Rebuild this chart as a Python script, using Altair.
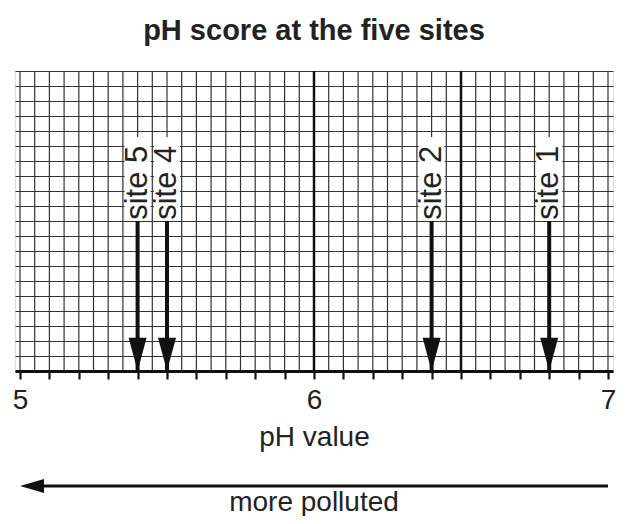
import altair as alt
import pandas as pd

# ---- data ----
sites = ["site 1", "site 2", "site 4", "site 5"]
ph_values = [6.8, 6.4, 5.5, 5.4]

tick_values = [5.0, 5.1, 5.2, 5.3, 5.4, 5.5, 5.6, 5.7, 5.8, 5.9, 6.0,
               6.1, 6.2, 6.3, 6.4, 6.5, 6.6, 6.7, 6.8, 6.9, 7.0]
grid_x = [round(5 + 0.05 * i, 2) for i in range(41)]
major_x = [6.0, 6.5]
grid_rows = list(range(21))

FONT = "Liberation Sans"

xscale = alt.Scale(domain=[5, 7], nice=False, zero=False)
yscale = alt.Scale(domain=[0, 20], nice=False, zero=False)

xaxis = alt.Axis(
    values=tick_values,
    labelExpr="abs(datum.value - round(datum.value)) < 0.001 ? format(datum.value, 'd') : ''",
    labelOverlap=False, labelFlush=False, labelBound=False,
    labelFontSize=28, labelFont=FONT, labelColor="#222", labelPadding=7,
    tickSize=8, tickWidth=2.2, tickColor="#111",
    domainWidth=3, domainColor="#111",
    grid=False, title="pH value", titleFontSize=28, titleFont=FONT,
    titleFontWeight="normal", titleColor="#222", titlePadding=9, zindex=1,
)
yaxis = alt.Axis(
    values=grid_rows, grid=True, gridColor="#333", gridWidth=1.2,
    labels=False, ticks=False, domain=False, title=None,
)

X = alt.X("x:Q", scale=xscale, axis=xaxis)
Y = alt.Y("y:Q", scale=yscale, axis=yaxis)

# vertical grid lines
vgrid = alt.Chart(pd.DataFrame({"x": grid_x})).mark_rule(
    color="#333", strokeWidth=1.2).encode(x=X)
vmajor = alt.Chart(pd.DataFrame({"x": major_x})).mark_rule(
    color="#111", strokeWidth=2.5).encode(x=X)

site_df = pd.DataFrame({
    "site": sites, "x": ph_values,
    "y": [0.0] * 4, "y2": [10.0] * 4,
    "ly": [10.0] * 4, "ly2": [15.6] * 4, "ty": [12.55] * 4,
})

boxes = alt.Chart(site_df).mark_bar(color="white", size=26).encode(
    x=X, y=alt.Y("ly:Q", scale=yscale, axis=yaxis), y2="ly2:Q")
labels = alt.Chart(site_df).mark_text(
    angle=270, align="center", baseline="middle", fontSize=31, font=FONT,
    color="#222").encode(
    x=X, y=alt.Y("ty:Q", scale=yscale, axis=yaxis), text="site:N")
shafts = alt.Chart(site_df).mark_rule(color="#111", strokeWidth=4).encode(
    x=X, y=Y, y2="y2:Q")
heads = alt.Chart(site_df).mark_point(
    shape="M-0.5,-1.85L0.5,-1.85L0,0Z", size=1296, filled=True,
    color="#111", opacity=1).encode(x=X, y=Y)

# bottom annotation
ann_line = alt.Chart(pd.DataFrame({"x": [7.0], "x2": [5.06], "y": [-7.67]})).mark_rule(
    color="#111", strokeWidth=3).encode(x=X, x2="x2:Q", y=Y)
ann_head = alt.Chart(pd.DataFrame({"x": [5.0], "y": [-7.67]})).mark_point(
    shape="M0,0L2.4,-0.7L2.4,0.7Z", size=400, filled=True, color="#111",
    opacity=1).encode(x=X, y=Y)
ann_text = alt.Chart(pd.DataFrame({"x": [6.0], "y": [-9.33], "t": ["more polluted"]})).mark_text(
    fontSize=28, font=FONT, color="#222", baseline="alphabetic", align="center").encode(
    x=X, y=Y, text="t:N")

chart = alt.layer(
    vgrid, vmajor, boxes, labels, shafts, heads, ann_line, ann_head, ann_text
).properties(
    width=598, height=300,
    title=alt.TitleParams("pH score at the five sites", fontSize=29, font=FONT,
                          fontWeight="bold", color="#222", anchor="middle",
                          baseline="bottom", offset=-5),
    padding={"left": 7, "top": 63, "right": 8, "bottom": 145},
    autosize=alt.AutoSizeParams(type="none"),
).configure_view(stroke=None).configure(background="white")

chart.save("out.html", embed_options={"renderer": "svg", "actions": False})
